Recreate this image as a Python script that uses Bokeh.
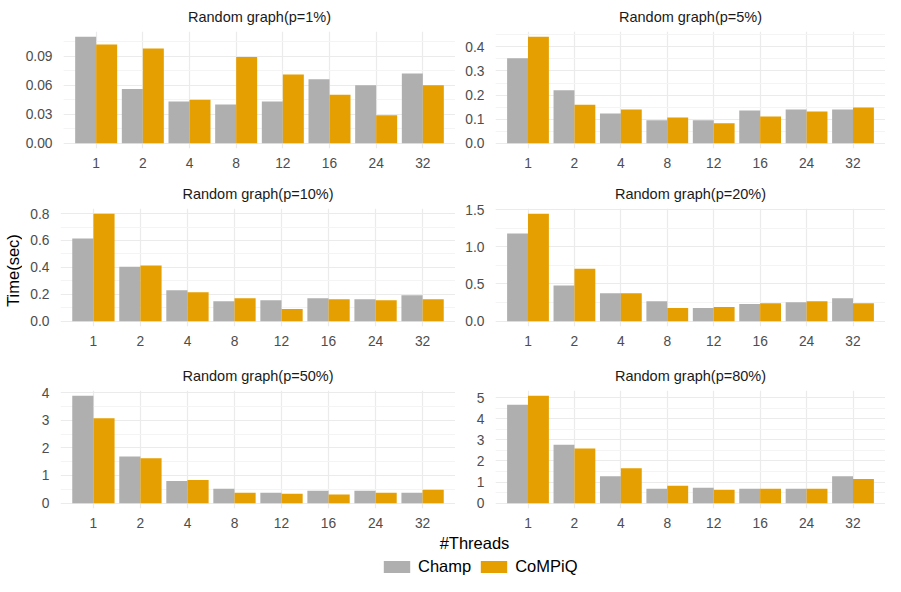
from math import pi
from bokeh.plotting import figure
from bokeh.models import (FactorRange, Range1d, FixedTicker, PrintfTickFormatter,
                          Label, Legend, LegendItem, ColumnDataSource)
from bokeh.layouts import row, column
from bokeh.transform import dodge
from bokeh.embed import file_html
from bokeh.resources import INLINE

# ---------------- data ----------------
threads = ["1", "2", "4", "8", "12", "16", "24", "32"]

titles = ["Random graph(p=1%)", "Random graph(p=5%)", "Random graph(p=10%)",
          "Random graph(p=20%)", "Random graph(p=50%)", "Random graph(p=80%)"]

champ_p1 = [0.110, 0.056, 0.043, 0.040, 0.043, 0.066, 0.060, 0.072]
compiq_p1 = [0.102, 0.098, 0.045, 0.089, 0.071, 0.050, 0.029, 0.060]

champ_p5 = [0.353, 0.220, 0.123, 0.095, 0.095, 0.136, 0.140, 0.140]
compiq_p5 = [0.442, 0.160, 0.140, 0.107, 0.083, 0.111, 0.132, 0.148]

champ_p10 = [0.615, 0.404, 0.229, 0.148, 0.156, 0.170, 0.163, 0.192]
compiq_p10 = [0.798, 0.413, 0.214, 0.170, 0.090, 0.163, 0.156, 0.163]

champ_p20 = [1.179, 0.479, 0.374, 0.268, 0.176, 0.229, 0.255, 0.308]
compiq_p20 = [1.443, 0.704, 0.374, 0.176, 0.189, 0.242, 0.268, 0.242]

champ_p50 = [3.88, 1.69, 0.80, 0.52, 0.38, 0.45, 0.45, 0.38]
compiq_p50 = [3.07, 1.62, 0.84, 0.38, 0.34, 0.31, 0.38, 0.48]

champ_p80 = [4.67, 2.77, 1.28, 0.68, 0.73, 0.68, 0.68, 1.28]
compiq_p80 = [5.09, 2.59, 1.66, 0.82, 0.63, 0.68, 0.68, 1.15]

major_ticks = [[0, 0.03, 0.06, 0.09], [0, 0.1, 0.2, 0.3, 0.4], [0, 0.2, 0.4, 0.6, 0.8],
               [0, 0.5, 1.0, 1.5], [0, 1, 2, 3, 4], [0, 1, 2, 3, 4, 5]]
minor_ticks = [[0.015, 0.045, 0.075, 0.105], [0.05, 0.15, 0.25, 0.35, 0.45],
               [0.1, 0.3, 0.5, 0.7], [0.25, 0.75, 1.25],
               [0.5, 1.5, 2.5, 3.5], [0.5, 1.5, 2.5, 3.5, 4.5]]
tick_formats = ["%.2f", "%.1f", "%.1f", "%.1f", "%d", "%d"]

champ_all = [champ_p1, champ_p5, champ_p10, champ_p20, champ_p50, champ_p80]
compiq_all = [compiq_p1, compiq_p5, compiq_p10, compiq_p20, compiq_p50, compiq_p80]

series_names = ["Champ", "CoMPiQ"]

# ---------------- style ----------------
FONT = "Liberation Sans"
GRAY = "#AEAFAE"
ORANGE = "#E69F00"
GRID = "#EBEBEB"
MINOR = "#F4F4F4"

row_specs = [  # (height, min_border_top, min_border_bottom)
    (172, 30, 24),
    (182, 36, 28),
    (178, 36, 24),
]


def make_panel(i, left):
    h, mbt, mbb = row_specs[i // 2]
    champ = champ_all[i]
    compiq = compiq_all[i]
    ymax = max(max(champ), max(compiq))
    p = figure(width=433 if left else 430, height=h,
               x_range=FactorRange(factors=threads, range_padding=0.2,
                                   range_padding_units="absolute"),
               y_range=Range1d(-0.05 * ymax, 1.05 * ymax),
               output_backend="svg", toolbar_location=None,
               min_border_left=38 if left else 40, min_border_right=0,
               min_border_top=mbt, min_border_bottom=mbb)
    src = ColumnDataSource(dict(threads=threads, champ=champ, compiq=compiq))
    p.vbar(x=dodge("threads", -0.225, range=p.x_range), top="champ", width=0.45,
           source=src, fill_color=GRAY, line_color=None)
    p.vbar(x=dodge("threads", 0.225, range=p.x_range), top="compiq", width=0.45,
           source=src, fill_color=ORANGE, line_color=None)

    p.title.text = titles[i]
    p.title.align = "center"
    p.title.text_font = FONT
    p.title.text_font_size = "14.5px"
    p.title.text_font_style = "normal"
    p.title.text_color = "#1A1A1A"
    p.title.standoff = 13

    p.outline_line_color = None
    ticker = FixedTicker(ticks=major_ticks[i], minor_ticks=minor_ticks[i])
    p.yaxis.ticker = ticker
    p.ygrid.ticker = ticker
    p.yaxis.formatter = PrintfTickFormatter(format=tick_formats[i])
    for ax in (p.xaxis, p.yaxis):
        ax.axis_line_color = None
        ax.major_tick_line_color = None
        ax.minor_tick_line_color = None
        ax.major_label_text_font = FONT
        ax.major_label_text_font_size = "13.8px"
        ax.major_label_text_color = "#4D4D4D"
    p.yaxis.major_label_standoff = 5
    p.xaxis.major_label_standoff = 3
    p.xgrid.grid_line_color = GRID
    p.xgrid.grid_line_width = 1.2
    p.ygrid.grid_line_color = GRID
    p.ygrid.grid_line_width = 1.2
    p.ygrid.minor_grid_line_color = MINOR
    p.ygrid.minor_grid_line_width = 1
    return p


panels = [make_panel(i, i % 2 == 0) for i in range(6)]
grid = column(row(panels[0], panels[1]), row(panels[2], panels[3]), row(panels[4], panels[5]))

rows_h = sum(s[0] for s in row_specs)

# y-axis title column
YW = 22
ycol = figure(width=YW, height=rows_h, x_range=Range1d(0, YW), y_range=Range1d(0, rows_h),
              output_backend="svg", toolbar_location=None, x_axis_type=None, y_axis_type=None,
              min_border=0, outline_line_color=None)
ycol.grid.visible = False
ycol.add_layout(Label(x=12, y=rows_h - 270, text="Time(sec)", angle=pi / 2,
                      text_align="center", text_baseline="middle",
                      text_font=FONT, text_font_size="16.5px", text_color="#000000"))

# bottom: x-axis title and legend
BW, BH = 885, 44
bottom = figure(width=BW, height=BH, x_range=Range1d(0, BW), y_range=Range1d(0, BH),
                output_backend="svg", toolbar_location=None, x_axis_type=None, y_axis_type=None,
                min_border=0, outline_line_color=None)
bottom.grid.visible = False
bottom.add_layout(Label(x=474, y=BH - 10, text="#Threads", text_align="center",
                        text_baseline="middle", text_font=FONT, text_font_size="16.5px",
                        text_color="#000000"))
# legend proxies: bars placed far outside the visible range so only their legend keys show
r_champ = bottom.vbar(x=[-5000], top=[-5000], bottom=[-5001], width=1,
                      fill_color=GRAY, line_color=None)
r_compiq = bottom.vbar(x=[-5000], top=[-5000], bottom=[-5001], width=1,
                       fill_color=ORANGE, line_color=None)
legend = Legend(items=[LegendItem(label=series_names[0], renderers=[r_champ]),
                       LegendItem(label=series_names[1], renderers=[r_compiq])],
                orientation="horizontal", location=(380, 0),
                glyph_width=33, glyph_height=15, label_standoff=5, spacing=6,
                padding=0, margin=0, border_line_color=None, background_fill_alpha=0,
                label_text_font=FONT, label_text_font_size="16.5px",
                label_text_color="#000000")
bottom.add_layout(legend)

layout = column(row(ycol, grid), bottom)

open("out.html", "w").write(file_html(layout, INLINE))
